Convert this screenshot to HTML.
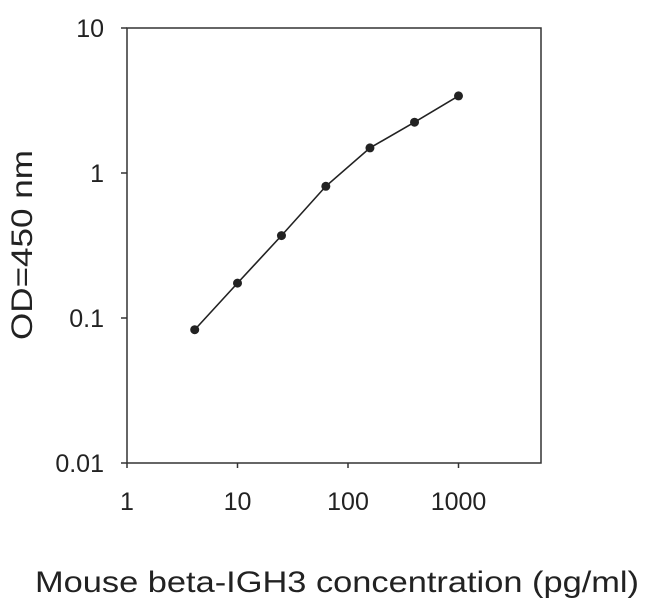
<!DOCTYPE html>
<html><head><meta charset="utf-8"><style>
html,body{margin:0;padding:0;background:#fff;}
svg{display:block;font-family:"Liberation Sans",Arial,sans-serif;}
</style></head><body>
<svg id="chart" width="650" height="608" viewBox="0 0 650 608">
<rect x="127" y="28" width="414" height="435" fill="none" stroke="#333" stroke-width="1.5"/>
<g id="axes"></g>
<g id="series"></g>
<text x="32" y="245" font-size="30" fill="#222" text-anchor="middle" textLength="190" lengthAdjust="spacingAndGlyphs" transform="rotate(-90 32 245)">OD=450 nm</text>
<text x="337" y="592" font-size="30" fill="#222" text-anchor="middle" textLength="604" lengthAdjust="spacingAndGlyphs">Mouse beta-IGH3 concentration (pg/ml)</text>
</svg>
<script>
const xConc = [4.1, 10, 25, 63, 158, 400, 1000];
const yOD = [0.083, 0.174, 0.37, 0.81, 1.49, 2.24, 3.4];
const xTickLabels = ["1", "10", "100", "1000"];
const xTickValues = [1, 10, 100, 1000];
const yTickLabels = ["10", "1", "0.1", "0.01"];
const yTickValues = [10, 1, 0.1, 0.01];

const NS = "http://www.w3.org/2000/svg";
function xs(v){ return 127 + Math.log10(v) * 110.5; }
function ys(v){ return 318 - Math.log10(v / 0.1) * 145; }
function mk(tag, attrs, parent){
  const e = document.createElementNS(NS, tag);
  for (const k in attrs) e.setAttribute(k, attrs[k]);
  parent.appendChild(e);
  return e;
}
const axes = document.getElementById("axes");
const series = document.getElementById("series");
xTickValues.forEach((v, i) => {
  const x = xs(v);
  const t = mk("line", {x1:x, x2:x, y1:463, y2:468, stroke:"#333", "stroke-width":1.5}, axes);
  
  
  const l = mk("text", {x:x, y:510, "font-size":25, "text-anchor":"middle", fill:"#222"}, axes);
  l.textContent = xTickLabels[i];
  
  
});
yTickValues.forEach((v, i) => {
  const y = ys(v);
  const t = mk("line", {x1:121, x2:127, y1:y, y2:y, stroke:"#333", "stroke-width":1.5}, axes);
  
  
  const l = mk("text", {x:104, y:y + 9, "font-size":25, "text-anchor":"end", fill:"#222"}, axes);
  l.textContent = yTickLabels[i];
  
  
});
const pts = xConc.map((v, i) => xs(v) + "," + ys(yOD[i])).join(" ");
const line = mk("polyline", {points:pts, fill:"none", stroke:"#222", "stroke-width":1.6}, series);


xConc.forEach((v, i) => {
  const c = mk("circle", {cx:xs(v), cy:ys(yOD[i]), r:4.5, fill:"#222"}, series);
  
  
});
</script>
</body></html>
